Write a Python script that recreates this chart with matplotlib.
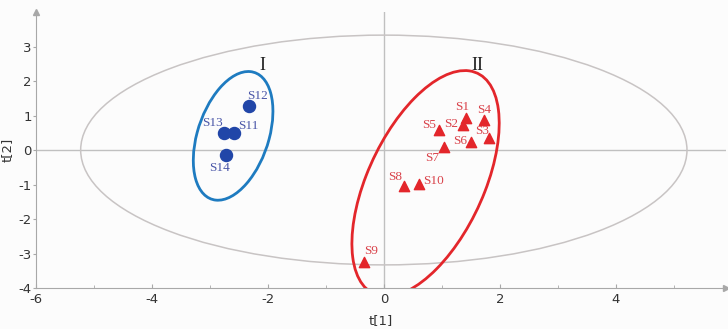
import matplotlib.pyplot as plt
from matplotlib.patches import Ellipse

plt.rcParams["axes.unicode_minus"] = False

# sample scores
blue_names = ["S11", "S12", "S13", "S14"]
blue_t1 = [-2.59, -2.33, -2.76, -2.73]
blue_t2 = [0.50, 1.28, 0.50, -0.15]

red_names = ["S1", "S2", "S3", "S4", "S5", "S6", "S7", "S8", "S9", "S10"]
red_t1 = [1.41, 1.37, 1.82, 1.72, 0.95, 1.50, 1.03, 0.34, -0.34, 0.60]
red_t2 = [0.92, 0.72, 0.34, 0.87, 0.58, 0.22, 0.10, -1.03, -3.26, -0.99]

xticks = [-6, -4, -2, 0, 2, 4]
yticks = [-4, -3, -2, -1, 0, 1, 2, 3]

# label centre offsets in pixels
offsets = {
    "S11": (15, 7), "S12": (9, 10), "S13": (-11, 10), "S14": (-6, -13),
    "S1": (-3, 11), "S2": (-12, 1), "S3": (-7, 7), "S4": (1, 10),
    "S5": (-10, 5), "S6": (-11, 1), "S7": (-11, -11), "S8": (-8, 9),
    "S9": (7, 11), "S10": (15, 3),
}

fig = plt.figure(figsize=(7.28, 3.29), dpi=100)
fig.patch.set_facecolor("#fcfcfc")
ax = fig.add_axes([0.0495, 0.1246, 0.9475, 0.8389])
ax.set_facecolor("#fcfcfc")
ax.set_xlim(-6, 5.9)
ax.set_ylim(-4, 4.0)

grey = "#a8a8a8"
ax.axhline(0, color="#c0c0c0", lw=1, zorder=1)
ax.axvline(0, color="#c0c0c0", lw=1, zorder=1)

# Hotelling ellipse
ax.add_patch(Ellipse((0, 0), 2 * 5.23, 2 * 3.33, fill=False, ec="#c8c4c4", lw=1.1, zorder=2))
# group ellipses
ax.add_patch(Ellipse((-2.6, 0.41), 2 * 1.886, 2 * 0.628, angle=81, fill=False,
                     ec="#1e7bc0", lw=2, zorder=3))
ax.add_patch(Ellipse((0.72, -0.97), 2 * 3.35, 2 * 1.05, angle=77, fill=False,
                     ec="#e3262b", lw=2, zorder=3))

ax.scatter(blue_t1, blue_t2, s=75, color="#2146a8", zorder=4)
ax.scatter(red_t1, red_t2, s=55, marker="^", color="#e3262b", zorder=4)

for n, x, y in zip(blue_names, blue_t1, blue_t2):
    ax.annotate(n, (x, y), xytext=offsets[n], textcoords="offset pixels",
                ha="center", va="center",
                fontsize=9.5, family="Liberation Serif", color="#4a56a8")
for n, x, y in zip(red_names, red_t1, red_t2):
    ax.annotate(n, (x, y), xytext=offsets[n], textcoords="offset pixels",
                ha="center", va="center",
                fontsize=9.5, family="Liberation Serif", color="#d9424a")

ax.text(-2.1, 2.33, "I", fontsize=13, family="Liberation Serif", color="#222222", ha="center")
ax.text(1.62, 2.33, "II", fontsize=13, family="Liberation Serif", color="#222222", ha="center")

for s in ["top", "right"]:
    ax.spines[s].set_visible(False)
for s in ["left", "bottom"]:
    ax.spines[s].set_color(grey)
ax.plot(1, 0, ">", color=grey, ms=4, transform=ax.transAxes, clip_on=False)
ax.plot(0, 1, "^", color=grey, ms=4, transform=ax.transAxes, clip_on=False)

ax.set_xticks(xticks)
ax.set_yticks(yticks)
ax.set_xticks([-5, -3, -1, 1, 3, 5], minor=True)
ax.tick_params(axis="x", direction="in", length=3, color=grey)
ax.tick_params(axis="x", which="minor", direction="in", length=2, color=grey)
ax.tick_params(axis="y", direction="out", length=2, color=grey, pad=1)
ax.tick_params(labelsize=9.5, labelcolor="#333333")
ax.set_xlabel("t[1]", fontsize=9.5, color="#333333", labelpad=6)
ax.set_ylabel("t[2]", fontsize=9.5, color="#333333")
ax.yaxis.set_label_coords(-0.033, 0.5)

fig.savefig("out.png", dpi=100, facecolor=fig.get_facecolor())
